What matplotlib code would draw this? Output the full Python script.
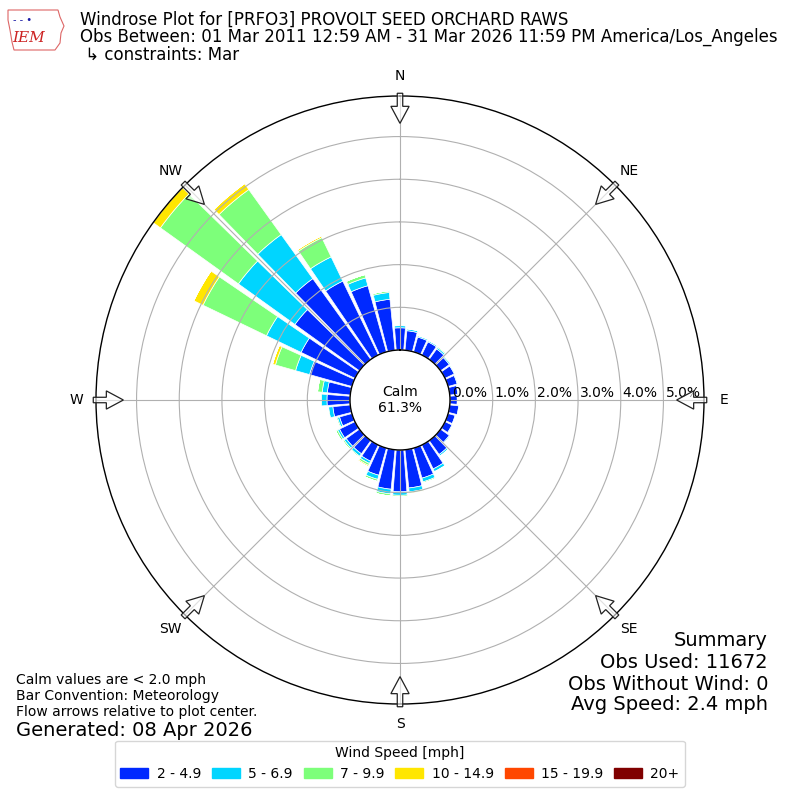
import numpy as np
import matplotlib
matplotlib.use("Agg")
from matplotlib import pyplot as plt
from matplotlib import transforms
from matplotlib.patches import FancyArrow, Rectangle, Polygon

# wind directions (deg, bin centers) and percent of all obs per speed bin
directions = np.arange(0, 360, 10)
speed_labels = ["2 - 4.9", "5 - 6.9", "7 - 9.9", "10 - 14.9", "15 - 19.9", "20+"]

pct_2_5 = [0.52, 0.46, 0.36, 0.34, 0.30, 0.25, 0.24, 0.22, 0.19, 0.17, 0.21, 0.17,
           0.18, 0.25, 0.40, 0.62, 0.73, 0.90, 0.98, 0.93, 0.66, 0.42, 0.38, 0.38,
           0.40, 0.30, 0.41, 0.54, 0.54, 1.03, 1.40, 1.86, 2.33, 1.92, 1.61, 1.20]
pct_5_7 = [0.05, 0.04, 0.03, 0.03, 0.04, 0.03, 0.02, 0.02, 0.02, 0.02, 0.02, 0.02,
           0.02, 0.03, 0.04, 0.07, 0.09, 0.09, 0.08, 0.11, 0.10, 0.06, 0.07, 0.06,
           0.05, 0.05, 0.10, 0.13, 0.12, 0.34, 0.90, 1.63, 1.27, 0.63, 0.19, 0.16]
pct_7_10 = [0.02, 0.01, 0.01, 0.01, 0.03, 0.02, 0.01, 0.01, 0.00, 0.00, 0.00, 0.00,
            0.01, 0.00, 0.01, 0.01, 0.03, 0.03, 0.03, 0.05, 0.05, 0.05, 0.03, 0.04,
            0.05, 0.03, 0.02, 0.03, 0.11, 0.49, 1.65, 2.25, 1.30, 0.50, 0.08, 0.04]
pct_10_15 = [0.00, 0.00, 0.00, 0.00, 0.00, 0.00, 0.00, 0.00, 0.00, 0.00, 0.00, 0.00,
             0.00, 0.00, 0.00, 0.00, 0.00, 0.02, 0.01, 0.00, 0.00, 0.03, 0.00, 0.00,
             0.00, 0.00, 0.00, 0.00, 0.00, 0.07, 0.24, 0.21, 0.17, 0.04, 0.00, 0.00]
pct_15_20 = [0.0] * 36
pct_20p = [0.0] * 36

calm_pct = 61.3
rings = [0, 1, 2, 3, 4, 5]
compass = ["N", "NE", "E", "SE", "S", "SW", "W", "NW"]

series = [pct_2_5, pct_5_7, pct_7_10, pct_10_15, pct_15_20, pct_20p]
colors = plt.cm.jet(np.linspace(0, 1, 7)[1:])

fig = plt.figure(figsize=(8, 8), dpi=100)
ax = fig.add_axes([0.12, 0.12, 0.76, 0.76], projection="polar")
ax.set_theta_zero_location("N")
ax.set_theta_direction(-1)

totals = np.sum(series, axis=0)
rmax = totals.max()
ax.set_rorigin(-rmax * 50.0 / 254.0)
ax.set_ylim(0, rmax)

theta = np.radians(directions)
width = np.radians(10) * 0.86
bottom = np.zeros(len(directions))
for vals, c in zip(series, colors):
    vals = np.array(vals)
    ax.bar(theta, vals, width=width, bottom=bottom, color=c,
           edgecolor="white", linewidth=0.5)
    bottom = bottom + vals

ax.set_yticks(rings)
ax.set_yticklabels([])
ax.set_xticks(np.radians(np.arange(0, 360, 45)))
ax.set_xticklabels([])
ax.grid(True, color="#b0b0b0", lw=0.8)
for sp in ax.spines.values():
    sp.set_color("black")
    sp.set_linewidth(1)

shifted = transforms.offset_copy(ax.transData, fig=fig, x=2, y=0, units="dots")
for r in rings:
    ax.text(np.radians(90), r, "%.1f%%" % r, ha="left", va="bottom", fontsize=10,
            transform=shifted)

ax.text(0.5, 0.5, "Calm\n%.1f%%" % calm_pct, transform=ax.transAxes,
        ha="center", va="center", fontsize=10)

# compass labels and flow arrows
for i, lab in enumerate(compass):
    a = np.radians(i * 45)
    s, c = np.sin(a), np.cos(a)
    ax.text(0.5 + 0.533 * s, 0.5 + 0.533 * c, lab, transform=ax.transAxes,
            ha="center", va="center", fontsize=10)
    r0 = 0.5045
    r1 = 0.455
    arr = FancyArrow(0.5 + r0 * s, 0.5 + r0 * c, (r1 - r0) * s, (r1 - r0) * c,
                     width=0.009, head_width=0.03, head_length=0.028,
                     length_includes_head=True, transform=ax.transAxes,
                     facecolor=(1, 1, 1, 0.6), edgecolor="#222222", lw=0.9,
                     clip_on=False, zorder=5)
    ax.add_artist(arr)

fig.text(0.1, 0.975, "Windrose Plot for [PRFO3] PROVOLT SEED ORCHARD RAWS",
         fontsize=12, va="center")
fig.text(0.1, 0.954, "Obs Between: 01 Mar 2011 12:59 AM - 31 Mar 2026 11:59 PM America/Los_Angeles",
         fontsize=12, va="center")
fig.text(0.1, 0.931, " \u21b3 constraints: Mar", fontsize=12, va="center")

# rough IEM logo
outline = [(8, 10), (58, 10), (60, 17), (64, 26), (61, 33), (60, 43), (55, 50),
           (14, 50), (12, 42), (10, 30), (8, 20)]
fig.patches.append(Polygon([(x / 800, 1 - y / 800) for x, y in outline], closed=True,
                           fill=False, edgecolor="#dd6666", lw=0.8,
                           transform=fig.transFigure))
fig.text(0.016, 0.975, "- - \u2022", fontsize=7, color="#1a1aa6", va="center")
fig.text(0.036, 0.952, "IEM", fontsize=11, color="#cc2222", family="DejaVu Serif",
         style="italic", ha="center", va="center")

fig.text(0.02, 0.159, "Calm values are < 2.0 mph\nBar Convention: Meteorology\n"
         "Flow arrows relative to plot center.", fontsize=10, va="top")
fig.text(0.02, 0.0875, "Generated: 08 Apr 2026", fontsize=14, va="center")

fig.text(0.96, 0.2, "Summary", fontsize=14, ha="right", va="center")
fig.text(0.96, 0.1725, "Obs Used: 11672", fontsize=14, ha="right", va="center")
fig.text(0.96, 0.145, "Obs Without Wind: 0", fontsize=14, ha="right", va="center")
fig.text(0.96, 0.119, "Avg Speed: 2.4 mph", fontsize=14, ha="right", va="center")

handles = [Rectangle((0, 0), 1, 1, color=c) for c in colors]
fig.legend(handles, speed_labels, loc="lower center", bbox_to_anchor=(0.5, 0.008),
           ncol=6, title="Wind Speed [mph]", fontsize=10, title_fontsize=10,
           columnspacing=0.8, handletextpad=0.6)

fig.savefig("out.png", dpi=100)
